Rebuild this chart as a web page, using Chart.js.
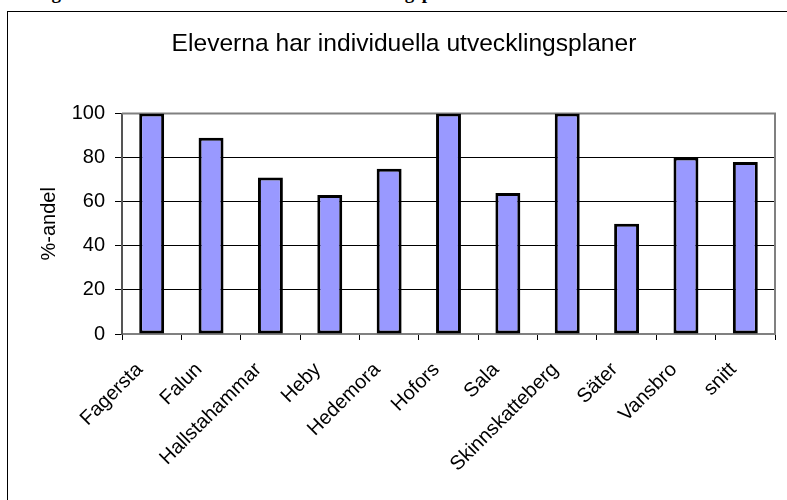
<!DOCTYPE html>
<html><head><meta charset="utf-8">
<script src="https://cdn.jsdelivr.net/npm/chart.js@4"></script>
<style>
html,body{margin:0;padding:0;width:787px;height:500px;overflow:hidden;background:#fff;position:relative;}
#cap{position:absolute;left:23px;top:-17px;font:bold 19px "Liberation Serif",serif;white-space:nowrap;line-height:19px;color:#000;}
#frame{position:absolute;left:7px;top:11px;width:840px;height:540px;border:1.5px solid #000;box-sizing:border-box;}
#wrap{position:absolute;left:8px;top:12px;width:792px;height:488px;}
</style></head>
<body>
<div id="cap">Diagram 5. Eleverna har individuella utvecklingsplaner</div>
<div id="frame"></div>
<div id="wrap"><canvas id="c" width="792" height="488"></canvas></div>
<script>
const categories = ["Fagersta","Falun","Hallstahammar","Heby","Hedemora","Hofors","Sala","Skinnskatteberg","Säter","Vansbro","snitt"];
const values = [100, 89, 71, 63, 75, 100, 64, 100, 50, 80, 78];
const yTicks = [0, 20, 40, 60, 80, 100];
const chartTitle = "Eleverna har individuella utvecklingsplaner";
const yTitle = "%-andel";

const FONT = {family:"'Liberation Sans', Arial, sans-serif", size:20};

const frameLines = {
  id:'frameLines',
  beforeDatasetsDraw(chart){
    const {ctx, chartArea:a} = chart;
    ctx.save();
    ctx.strokeStyle = '#808080';
    ctx.lineWidth = 2;
    ctx.beginPath();
    ctx.moveTo(a.left, a.top);
    ctx.lineTo(a.right, a.top);
    ctx.lineTo(a.right, a.bottom);
    ctx.stroke();
    ctx.restore();
  }
};

new Chart(document.getElementById('c'), {
  type:'bar',
  data:{
    labels:categories,
    datasets:[{
      data:values,
      backgroundColor:'#9999FF',
      borderColor:'#000',
      borderWidth:3,
      borderSkipped:false,
      barPercentage:0.84,
      categoryPercentage:0.5
    }]
  },
  options:{
    responsive:false,
    animation:false,
    devicePixelRatio:1,
    layout:{padding:0},
    plugins:{
      legend:{display:false},
      tooltip:{enabled:false},
      title:{display:true,text:chartTitle,color:'#000',font:{family:FONT.family,size:24.6,weight:'normal'},padding:{top:17,bottom:55}}
    },
    scales:{
      x:{
        offset:true,
        grid:{offset:true,drawOnChartArea:false,drawTicks:true,tickLength:6,tickColor:'#000',tickWidth:1},
        border:{color:'#808080',width:2},
        ticks:{maxRotation:45,minRotation:45,autoSkip:false,color:'#000',font:FONT,padding:18,labelOffset:-12},
        afterFit(s){s.height=166;}
      },
      y:{
        min:0,max:100,
        afterBuildTicks(s){s.ticks = yTicks.map(v=>({value:v}));},
        ticks:{color:'#000',font:FONT,padding:10},
        grid:{
          color:ctx=> ctx.tick && (ctx.tick.value===100 || ctx.tick.value===0) ? 'rgba(0,0,0,0)' : '#000',
          lineWidth:1,tickLength:7,tickColor:'#000',tickWidth:1
        },
        border:{color:'#555',width:2},
        title:{display:true,text:yTitle,color:'#000',font:FONT,padding:{top:29,bottom:0}},
        afterFit(s){s.width=114;}
      },
      y2:{
        position:'right',display:true,
        grid:{display:false,drawTicks:false},
        ticks:{display:false},
        border:{display:false},
        afterFit(s){s.width=25;}
      }
    }
  },
  plugins:[frameLines]
});
</script>
</body></html>
